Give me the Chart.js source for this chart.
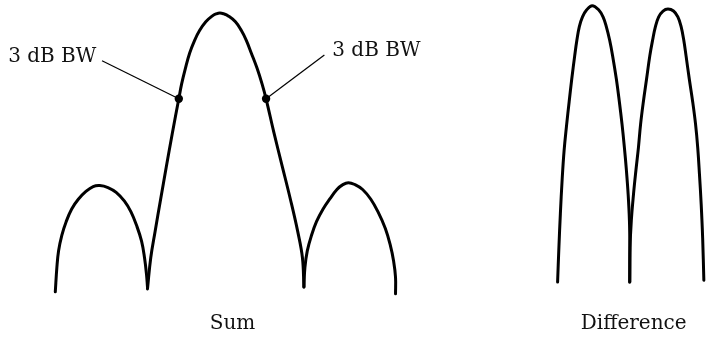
<!DOCTYPE html>
<html>
<head>
<meta charset="utf-8">
<script src="https://cdn.jsdelivr.net/npm/chart.js@4/dist/chart.umd.min.js"></script>
<style>
  html, body { margin: 0; padding: 0; background: #fff; }
  canvas { display: block; }
</style>
</head>
<body>
<canvas id="c" width="712" height="338"></canvas>
<script>
// ---- Data (angle units along x, relative level above the baseline along y) ----
const sumLeftAngle   = [51.7, 53.3, 55, 58.3, 62.7, 68.3, 75, 82.7, 90, 96.7, 105, 113.3, 121.7, 128.3, 134, 139, 142, 144, 145];
const sumLeftLevel   = [1, 26, 43, 59, 73, 86, 96, 104, 109, 110, 108, 103, 94, 83, 69, 53, 36, 19, 6];

const sumMainAngle   = [145, 148.3, 152.7, 158.3, 164, 170, 176.7, 179.5, 183.3, 187.7, 192.7, 197.7, 204, 210.7, 214.3, 218.3,
                        222.5, 226.7, 234, 240, 245, 250, 256, 261, 265, 273, 281.3, 289.6, 297, 301.8, 303.3];
const sumMainLevel   = [4, 36, 63, 96, 129, 163, 199, 214, 230, 246, 259, 269, 278, 284, 286, 287,
                        286, 284, 278, 269, 259, 246, 230, 214, 199, 164, 130, 96, 63, 36, 6];

const sumRightAngle  = [303.3, 304.3, 306.7, 311, 316, 322.7, 329.3, 336.7, 342.7, 348.3, 355, 362.7, 371, 378.3, 385.7, 390.7, 394, 396, 396];
const sumRightLevel  = [6, 26, 43, 59, 73, 86, 96, 106, 111, 113, 111, 106, 96, 83, 66, 49, 33, 16, -1];

const diffLeftAngle  = [560, 561.3, 562.8, 564.6, 566.6, 569, 571.7, 574.3, 577.3, 579.5, 582, 585.2, 589.3, 595,
                        601.7, 606, 609.3, 612.7, 615.7, 619.5, 622.5, 625.2, 627.6, 629.6, 631.4, 632.7, 633.1, 633];
const diffLeftLevel  = [11, 46, 81, 116, 146, 171, 196, 219, 243, 259, 273, 283, 290, 294.5,
                        290, 283, 273, 259, 243, 219, 196, 173, 149, 126, 101, 74, 46, 11];

const diffRightAngle = [633, 633.3, 634.6, 636.8, 639.3, 641.8, 644, 646.8, 650, 653.3, 656.1, 659, 662.3, 666.7, 671.7,
                        677.3, 681.7, 685, 687.7, 690, 693.3, 696.7, 699.6, 701.8, 703.6, 705.3, 706.8, 708];
const diffRightLevel = [11, 46, 74, 101, 126, 149, 173, 196, 219, 243, 259, 273, 283, 289, 291,
                        289, 283, 273, 259, 243, 219, 196, 173, 149, 121, 91, 56, 13];

// 3 dB beamwidth points on the sum main lobe
const bwAngle = [176.7, 265];
const bwLevel = [199, 199];

// Annotation labels
const bwLabels      = ["3 dB BW", "3 dB BW"];
const bwLabelAngle  = [4, 332];
const bwLabelLevel  = [237, 243];
const bwLeaderAngle = [99, 324];
const bwLeaderLevel = [238, 244];

const patternLabels     = ["Sum", "Difference"];
const patternLabelAngle = [231, 637];
const patternLabelLevel = [-37, -37];

const toPts = (xs, ys) => xs.map((x, i) => ({ x: x, y: ys[i] }));

const lineStyle = {
  showLine: true,
  borderColor: '#000',
  borderWidth: 3,
  pointRadius: 0,
  tension: 0.4,
  borderCapStyle: 'round',
  borderJoinStyle: 'round',
  clip: false,
  fill: false
};

const annotate = {
  id: 'annotate',
  afterDatasetsDraw(chart) {
    const ctx = chart.ctx;
    const xs = chart.scales.x, ys = chart.scales.y;
    ctx.save();
    ctx.strokeStyle = '#000';
    ctx.lineWidth = 1.2;
    for (let i = 0; i < bwAngle.length; i++) {
      ctx.beginPath();
      ctx.moveTo(xs.getPixelForValue(bwLeaderAngle[i]), ys.getPixelForValue(bwLeaderLevel[i]));
      ctx.lineTo(xs.getPixelForValue(bwAngle[i]), ys.getPixelForValue(bwLevel[i]));
      ctx.stroke();
    }
    ctx.fillStyle = '#111';
    ctx.font = '20px "DejaVu Serif", serif';
    ctx.textBaseline = 'alphabetic';
    ctx.textAlign = 'left';
    for (let i = 0; i < bwLabels.length; i++) {
      ctx.fillText(bwLabels[i], xs.getPixelForValue(bwLabelAngle[i]), ys.getPixelForValue(bwLabelLevel[i]));
    }
    ctx.textAlign = 'center';
    for (let i = 0; i < patternLabels.length; i++) {
      ctx.fillText(patternLabels[i], xs.getPixelForValue(patternLabelAngle[i]), ys.getPixelForValue(patternLabelLevel[i]));
    }
    ctx.restore();
  }
};

new Chart(document.getElementById('c'), {
  type: 'scatter',
  data: {
    datasets: [
      Object.assign({ data: toPts(sumLeftAngle, sumLeftLevel) }, lineStyle),
      Object.assign({ data: toPts(sumMainAngle, sumMainLevel) }, lineStyle),
      Object.assign({ data: toPts(sumRightAngle, sumRightLevel) }, lineStyle),
      Object.assign({ data: toPts(diffLeftAngle, diffLeftLevel) }, lineStyle),
      Object.assign({ data: toPts(diffRightAngle, diffRightLevel) }, lineStyle),
      {
        data: toPts(bwAngle, bwLevel),
        showLine: false,
        pointRadius: 4.2,
        pointBackgroundColor: '#000',
        pointBorderColor: '#000',
        pointBorderWidth: 0,
        clip: false
      }
    ]
  },
  options: {
    responsive: false,
    animation: false,
    devicePixelRatio: 1,
    layout: { padding: 0 },
    plugins: { legend: { display: false }, tooltip: { enabled: false } },
    events: [],
    scales: {
      x: { type: 'linear', min: 0, max: 712, display: false },
      y: { type: 'linear', min: -42, max: 296, display: false }
    }
  },
  plugins: [annotate]
});
</script>
</body>
</html>
